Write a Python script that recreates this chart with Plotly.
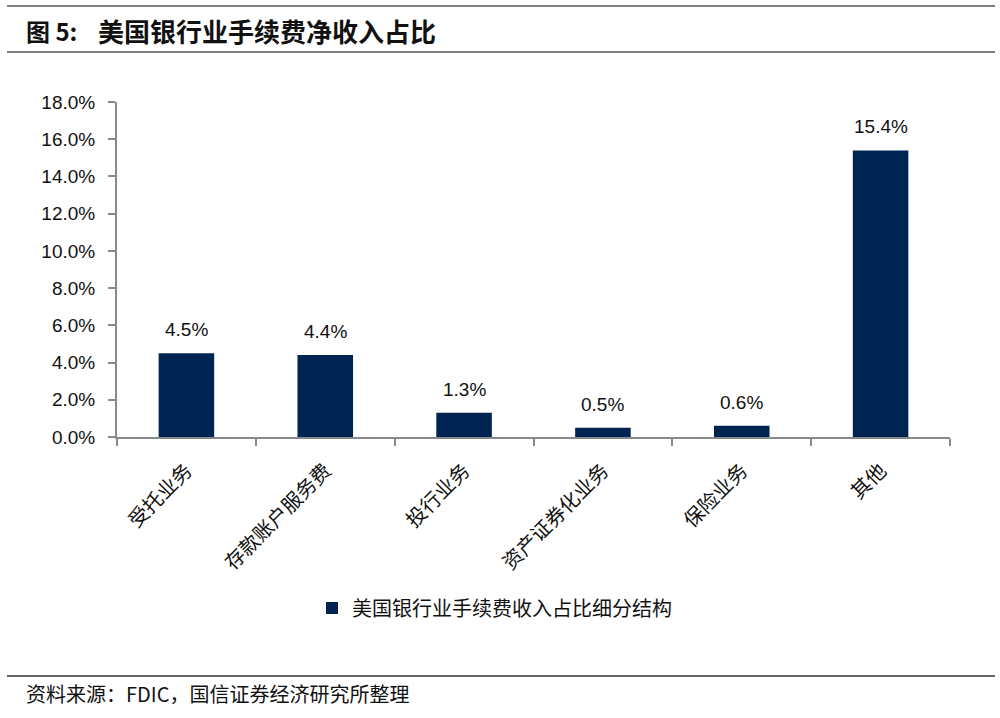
import plotly.graph_objects as go

categories = ["受托业务", "存款账户服务费", "投行业务", "资产证券化业务", "保险业务", "其他"]
values = [4.5, 4.4, 1.3, 0.5, 0.6, 15.4]
series_name = "美国银行业手续费收入占比细分结构"
y_ticks = [0, 2, 4, 6, 8, 10, 12, 14, 16, 18]
y_tick_labels = [f"{v:.1f}%" for v in y_ticks]
value_labels = [f"{v:.1f}%" for v in values]

W, H = 1000, 718
L, T = 117, 102
R = W - 950
B = H - 437
pw, ph = W - L - R, H - T - B

def px(X):
    return (X - L) / pw

def py(Y):
    return (H - B - Y) / ph

cjk = "Noto Sans CJK SC"
num = "Liberation Sans, Arial"
navy = "#002452"
axis_col = "#898989"

fig = go.Figure()
fig.add_trace(go.Bar(
    x=categories, y=values, name=series_name,
    marker=dict(color=navy, line=dict(width=0)),
    width=0.4,
))
for c, v, t in zip(categories, values, value_labels):
    fig.add_annotation(x=c, y=v, text=t, showarrow=False,
                       xanchor="center", yanchor="bottom", yshift=11,
                       font=dict(family=num, size=19, color="#111111"))

fig.update_layout(
    width=W, height=H,
    margin=dict(l=L, r=R, t=T, b=B, autoexpand=False),
    plot_bgcolor="white", paper_bgcolor="white",
    showlegend=True,
    legend=dict(x=px(312), y=py(608), xanchor="left", yanchor="middle",
                font=dict(family=cjk, size=20, color="#111111"),
                itemsizing="constant", bgcolor="rgba(0,0,0,0)"),
)
fig.update_xaxes(
    type="category", tickson="boundaries", ticks="outside", ticklen=7,
    tickcolor=axis_col, tickwidth=2,
    showline=True, linecolor=axis_col, linewidth=2,
    tickangle=-45, tickfont=dict(family=cjk, size=20, color="#111111"),
    ticklabelstandoff=12,
    showgrid=False, range=[-0.5, 5.5],
)
fig.update_yaxes(
    range=[0, 18], tickvals=y_ticks, ticktext=y_tick_labels,
    ticks="outside", ticklen=7, tickcolor=axis_col, tickwidth=2,
    showline=True, linecolor=axis_col, linewidth=2,
    tickfont=dict(family=num, size=19, color="#111111"),
    ticklabelstandoff=9,
    showgrid=False, zeroline=False,
)

# header / footer rules
for Y in (6, 52):
    fig.add_shape(type="line", xref="paper", yref="paper",
                  x0=px(7), x1=px(995), y0=py(Y), y1=py(Y),
                  line=dict(color="#555555", width=1.5))
fig.add_shape(type="line", xref="paper", yref="paper",
              x0=px(7), x1=px(995), y0=py(676), y1=py(676),
              line=dict(color="#666666", width=2))

fig.add_annotation(xref="paper", yref="paper", x=px(24), y=py(30),
                   xanchor="left", yanchor="middle", showarrow=False,
                   text="<b>图 5:</b>",
                   font=dict(family=cjk, size=24, color="#111111"))
fig.add_annotation(xref="paper", yref="paper", x=px(96), y=py(30),
                   xanchor="left", yanchor="middle", showarrow=False,
                   text="<b>美国银行业手续费净收入占比</b>",
                   font=dict(family=cjk, size=26, color="#111111"))
fig.add_annotation(xref="paper", yref="paper", x=px(24), y=py(693),
                   xanchor="left", yanchor="middle", showarrow=False,
                   text="资料来源：FDIC，国信证券经济研究所整理",
                   font=dict(family=cjk, size=20, color="#111111"))

fig.write_html("out.html",
               config={"displayModeBar": False},
               post_script="document.body.style.margin='0px';")
